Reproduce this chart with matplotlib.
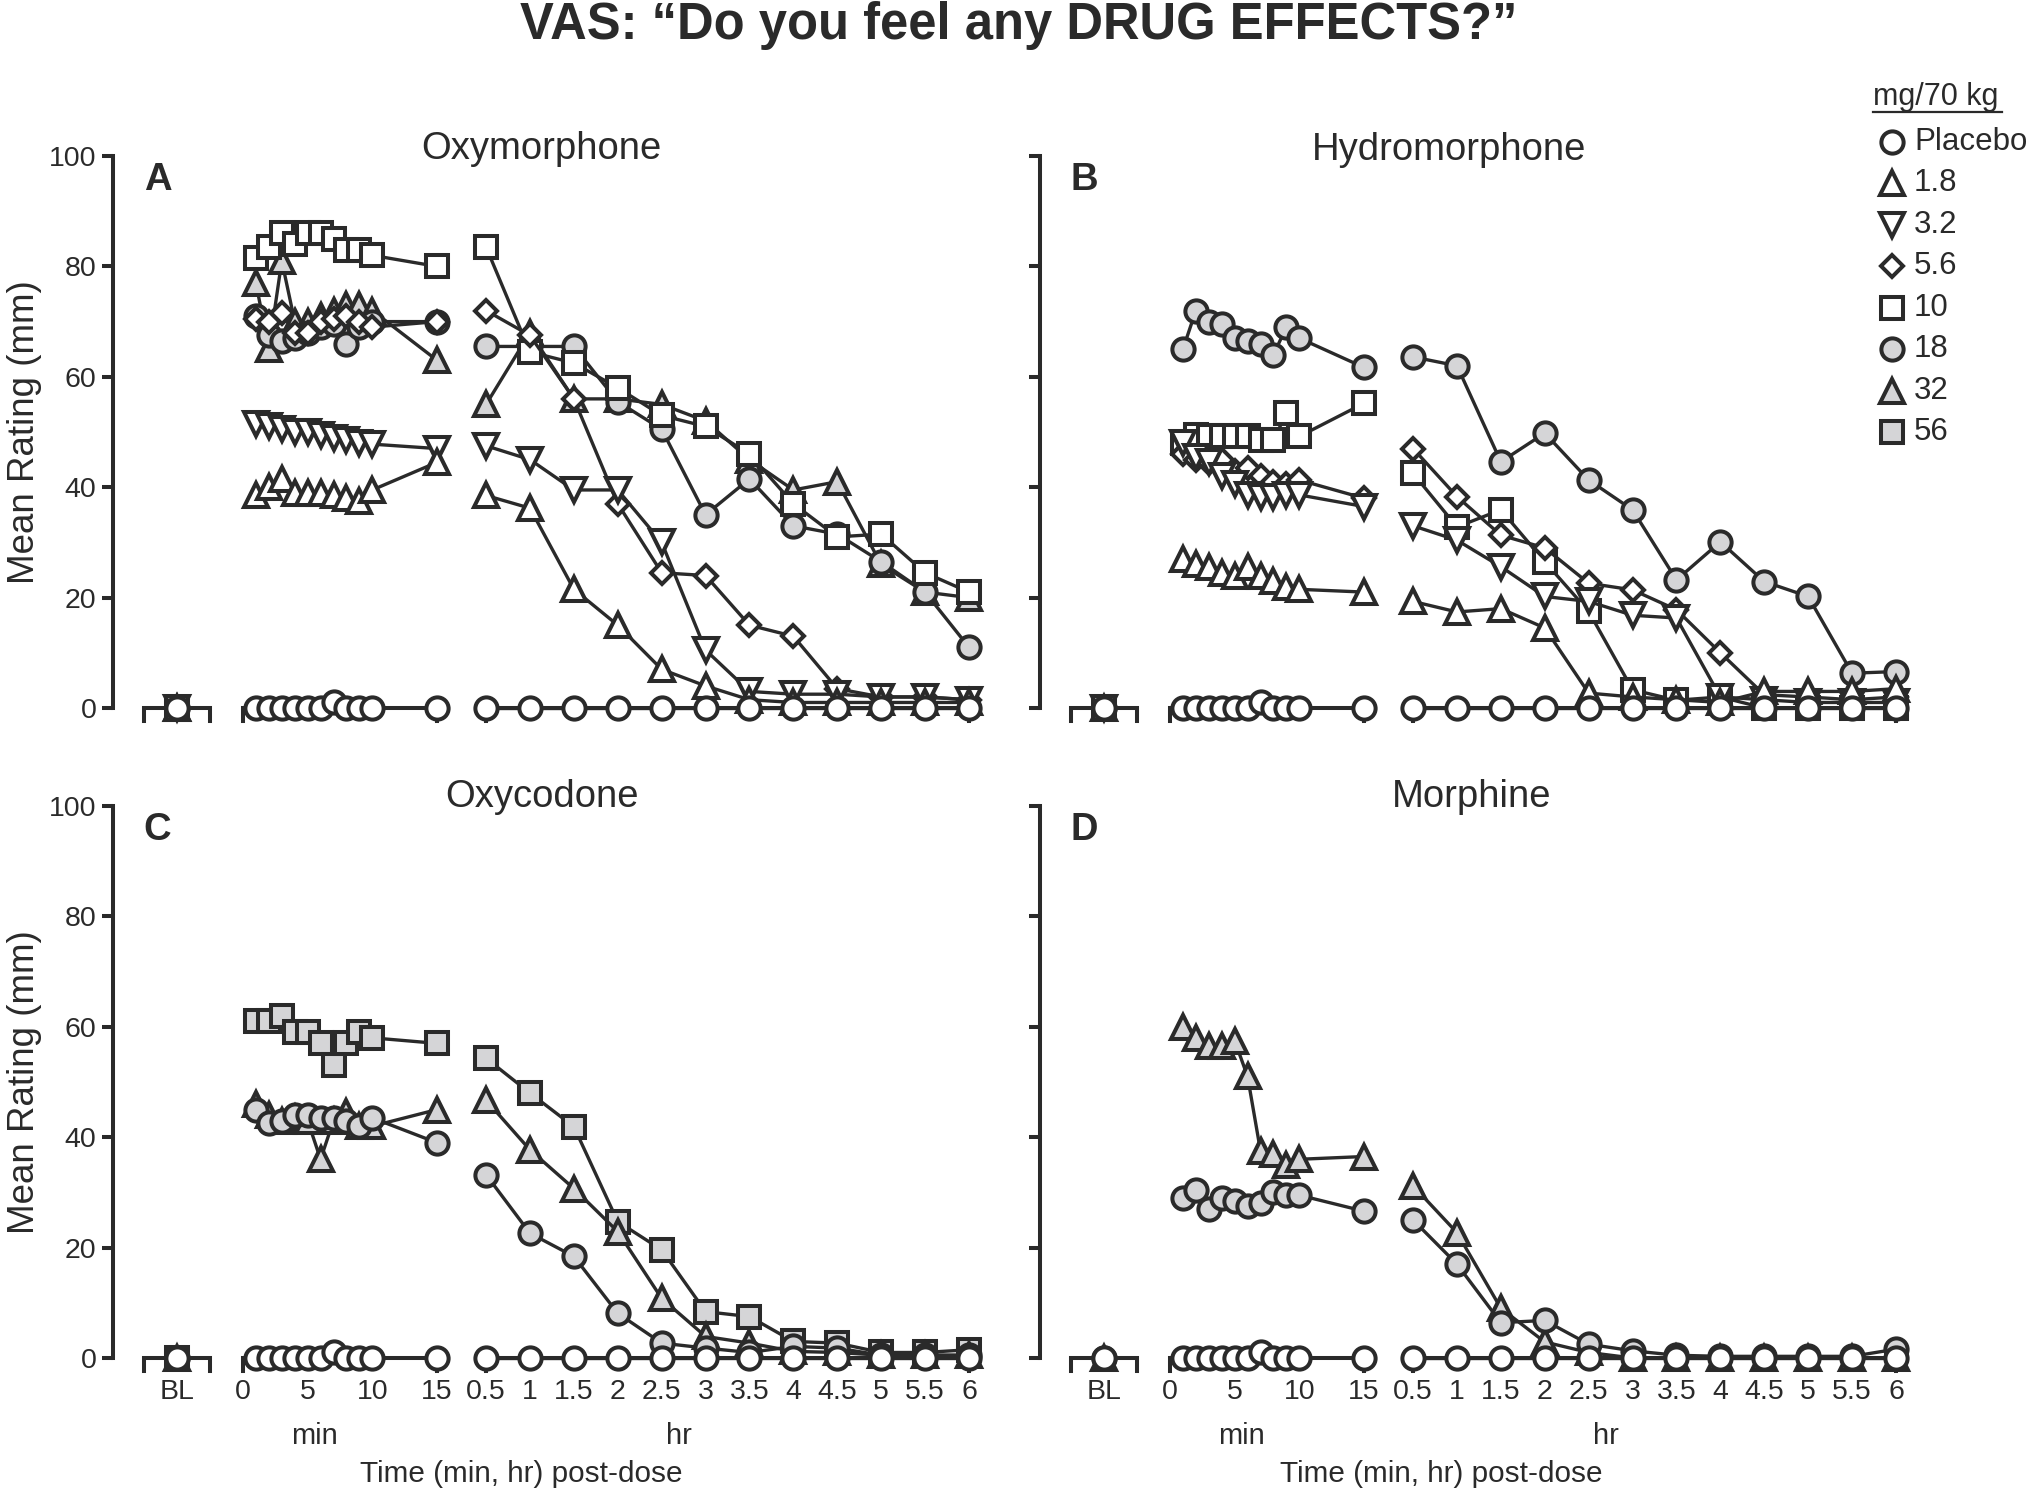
import matplotlib
matplotlib.use("Agg")
import matplotlib.pyplot as plt
from matplotlib.lines import Line2D

plt.rcParams['font.family'] = ['Liberation Sans', 'DejaVu Sans']

W, H, DPI = 2032, 1492, 100

# ---------------- data ----------------
min_times = [1, 2, 3, 4, 5, 6, 7, 8, 9, 10, 15]
hr_times = [0.5, 1, 1.5, 2, 2.5, 3, 3.5, 4, 4.5, 5, 5.5, 6]
min_tick_values = [0, 5, 10, 15]
hr_tick_labels = ['0.5', '1', '1.5', '2', '2.5', '3', '3.5', '4', '4.5', '5', '5.5', '6']
dose_labels = ['Placebo', '1.8', '3.2', '5.6', '10', '18', '32', '56']
y_ticks = [0, 20, 40, 60, 80, 100]

# each series: [BL] + 11 values at min_times + 12 values at hr_times
oxym_placebo = [0] + [0, 0, 0, 0, 0, 0, 1, 0, 0, 0, 0] + [0] * 12
oxym_1_8 = [0] + [38.5, 40, 41.5, 39, 39, 39, 38.5, 38, 37.5, 39.5, 44.5] + \
    [38.5, 36.2, 21.5, 15, 7, 4, 1.5, 1, 1, 1, 1, 1]
oxym_3_2 = [0] + [51.5, 51, 50.5, 50, 50, 49.5, 49, 48.5, 48, 47.8, 47] + \
    [47.5, 45, 39.5, 39.5, 30, 10.5, 3, 2.5, 2.5, 2, 2, 1.5]
oxym_5_6 = [0] + [70.5, 70, 71.5, 68, 68, 70, 70.5, 71, 70, 69, 70] + \
    [72, 67.5, 56, 37, 24.5, 24, 15, 13, 3.5, 2, 2, 1.5]
oxym_10 = [0] + [81.5, 83.5, 86, 84, 86, 86, 85, 83, 83, 82, 80] + \
    [83.5, 64.5, 62.5, 58, 53, 51, 46, 37, 31, 31.5, 24.5, 21]
oxym_18 = [0] + [71, 67.5, 66.5, 67, 68, 69, 69.5, 66, 69, 70, 70] + \
    [65.5, 65.5, 65.5, 55.5, 50.5, 35, 41.5, 33, 31.5, 26.5, 21, 11]
oxym_32 = [0] + [77, 65, 81, 70, 70, 71, 72, 73, 73, 72, 63] + \
    [55, 68, 56, 56, 55, 52, 45, 39.5, 41, 26, 21, 20]

hydro_placebo = [0] + [0, 0, 0, 0, 0, 0, 1, 0, 0, 0, 0] + [0] * 12
hydro_1_8 = [0] + [27, 26, 25.5, 24.5, 24, 25.5, 24, 23, 22, 21.5, 21] + \
    [19.3, 17.4, 18, 14.5, 2.7, 2, 1.5, 1, 3, 3, 3, 3.5]
hydro_3_2 = [0] + [48, 45.5, 44.5, 42, 40.5, 38.5, 38.3, 38.3, 38.6, 38.6, 36.5] + \
    [33, 30.4, 25.6, 20.2, 19.3, 16.8, 16.3, 2, 1.5, 1, 1, 1]
hydro_5_6 = [0] + [46, 45, 44.3, 45, 43, 43.5, 42, 41, 40.5, 41.3, 38] + \
    [47, 38.3, 31.3, 29, 22.6, 21.4, 17.8, 10, 2.4, 2, 1.5, 2]
hydro_10 = [0] + [48, 49.5, 49.2, 49.2, 49.2, 49.2, 48.5, 48.5, 53.4, 49.2, 55.2] + \
    [42.5, 32.8, 35.9, 26.5, 17.5, 3.3, 1.4, 2, 0, 0, 0, 0]
hydro_18 = [0] + [65, 72, 70, 69.5, 67, 66.5, 66, 64, 69, 67, 61.7] + \
    [63.6, 62, 44.6, 49.8, 41.3, 35.9, 23.2, 30.1, 22.9, 20.2, 6.3, 6.6]

oxyc_placebo = [0] + [0, 0, 0, 0, 0, 0, 1, 0, 0, 0, 0] + [0] * 12
oxyc_18 = [0] + [45, 42.5, 43, 44, 44, 43.5, 43.5, 43, 42, 43.5, 39] + \
    [33.2, 22.6, 18.4, 8.1, 2.7, 1.8, 1, 2.1, 1.8, 0.5, 0.5, 0.5]
oxyc_32 = [0] + [46, 44, 43, 43.5, 43, 36, 43, 44.5, 42, 42, 45] + \
    [46.7, 37.7, 30.7, 22.9, 10.8, 3.9, 2.7, 1.2, 1, 0.5, 0.5, 0.5]
oxyc_56 = [0] + [61, 61, 62, 59, 59, 57, 53, 57, 59, 58, 57] + \
    [54.3, 48, 41.9, 24.7, 19.6, 8.4, 7.5, 3, 2.7, 1, 1, 1.5]

morph_placebo = [0] + [0, 0, 0, 0, 0, 0, 1, 0, 0, 0, 0] + [0] * 12
morph_18 = [0] + [29, 30.5, 27, 29, 28.5, 27.5, 28, 30, 29.5, 29.5, 26.6] + \
    [25, 17, 6.4, 6.8, 2.5, 1.3, 0.5, 0.3, 0.3, 0.3, 0.3, 1.6]
morph_32 = [0] + [60, 58, 56.5, 56.5, 57.5, 51, 37.5, 37, 35, 36, 36.5] + \
    [31.2, 22.7, 9, 2.9, 1, 0, 0, 0, 0, 0, 0, 0]

panels = [
    ('A', 'Oxymorphone', {'Placebo': oxym_placebo, '1.8': oxym_1_8, '3.2': oxym_3_2,
                          '5.6': oxym_5_6, '10': oxym_10, '18': oxym_18, '32': oxym_32}),
    ('B', 'Hydromorphone', {'Placebo': hydro_placebo, '1.8': hydro_1_8, '3.2': hydro_3_2,
                            '5.6': hydro_5_6, '10': hydro_10, '18': hydro_18}),
    ('C', 'Oxycodone', {'Placebo': oxyc_placebo, '18': oxyc_18, '32': oxyc_32, '56': oxyc_56}),
    ('D', 'Morphine', {'Placebo': morph_placebo, '18': morph_18, '32': morph_32}),
]

# ---------------- styling ----------------
INK = '#2a2a2a'
GRAY = '#d5d5d7'
MS = 16
MEW = 2.9
LW = 2.4
styles = {
    'Placebo': dict(marker='o', mfc='white', ms=MS),
    '1.8': dict(marker='^', mfc='white', ms=MS + 1),
    '3.2': dict(marker='v', mfc='white', ms=MS + 1),
    '5.6': dict(marker='D', mfc='white', ms=MS - 4.5),
    '10': dict(marker='s', mfc='white', ms=MS),
    '18': dict(marker='o', mfc=GRAY, ms=MS),
    '32': dict(marker='^', mfc=GRAY, ms=MS + 1),
    '56': dict(marker='s', mfc=GRAY, ms=MS),
}

# x mapping (axis units = minutes)
BL_X = -5.1
HR0_X = 18.8
HALF_HR_STEP = 3.395


def hr_x(h):
    return HR0_X + (h - 0.5) / 0.5 * HALF_HR_STEP


PX_PER_MIN = 12.93
PX_PER_UNIT = 5.52
XLIM = (-10.05, 58.5)
YLIM = (-2.5, 103)

fig = plt.figure(figsize=(W / DPI, H / DPI), dpi=DPI)


def make_ax(x0_px, y0_px):
    left = x0_px + XLIM[0] * PX_PER_MIN
    right = x0_px + XLIM[1] * PX_PER_MIN
    bottom = y0_px - YLIM[0] * PX_PER_UNIT
    top = y0_px - YLIM[1] * PX_PER_UNIT
    return fig.add_axes([left / W, 1 - bottom / H, (right - left) / W, (bottom - top) / H])


origins = {'A': (243, 708), 'B': (1170, 708), 'C': (243, 1358), 'D': (1170, 1358)}
title_pos = {'A': (23.1, 101.2), 'B': (21.6, 101.0), 'C': (23.1, 101.7), 'D': (23.3, 101.7)}

for letter, drug, series in panels:
    ax = make_ax(*origins[letter])
    ax.set_xlim(*XLIM)
    ax.set_ylim(*YLIM)
    ax.patch.set_alpha(0)
    for s in ['top', 'right', 'bottom']:
        ax.spines[s].set_visible(False)
    ax.spines['left'].set_bounds(0, 100)
    ax.spines['left'].set_linewidth(2.9)
    ax.spines['left'].set_color(INK)
    ax.set_yticks(y_ticks)
    ax.tick_params(axis='y', length=8, width=2.9, color=INK, labelsize=20.5,
                   labelcolor=INK, pad=4)
    if letter in ('B', 'D'):
        ax.set_yticklabels([])

    bottom_row = letter in ('C', 'D')
    xt = [BL_X] + list(min_tick_values) + [hr_x(h) for h in hr_times]
    xl = ['BL'] + [str(v) for v in min_tick_values] + hr_tick_labels
    ax.set_xticks(xt)
    ax.set_xticklabels(xl if bottom_row else [''] * len(xt))
    ax.tick_params(axis='x', length=0, labelsize=20.5, labelcolor=INK, pad=5)

    # broken x-axis segments
    tick_dy = 2.4
    for a, b in [(BL_X - 2.55, BL_X + 2.55), (0, 15), (HR0_X, hr_x(6))]:
        ax.plot([a, a, b, b], [-tick_dy, 0, 0, -tick_dy], color=INK, lw=2.9,
                solid_joinstyle='miter', clip_on=False, zorder=1)

    # series, highest dose first so placebo lies on top
    order = [d for d in reversed(dose_labels) if d in series]
    for z, dose in enumerate(order):
        vals = series[dose]
        st = styles[dose]
        kw = dict(color=INK, lw=LW, mec=INK, mew=MEW, clip_on=False, zorder=3 + z,
                  **st)
        ax.plot([BL_X], vals[0:1], **kw)
        ax.plot(min_times, vals[1:12], **kw)
        ax.plot([hr_x(h) for h in hr_times], vals[12:24], **kw)

    tx, ty = title_pos[letter]
    ax.text(tx, ty, drug, ha='center', va='center',
            fontsize=27.5, color=INK, clip_on=False)
    ax.text(-6.6, 95.6, letter, ha='center', va='center', fontsize=27.5,
            fontweight='bold', color=INK)

# y labels
for yc in (708 - 50 * PX_PER_UNIT, 1358 - 50 * PX_PER_UNIT):
    fig.text(25 / W, 1 - yc / H, 'Mean Rating (mm)', rotation=90, ha='center',
             va='center', fontsize=26.5, color=INK)

# min / hr / x labels
for dx, xlab in ((0, 521), (927, 1441)):
    fig.text((314 + dx) / W, 1 - 1436 / H, 'min', ha='center', va='center',
             fontsize=21, color=INK)
    fig.text((679 + dx) / W, 1 - 1436 / H, 'hr', ha='center', va='center',
             fontsize=21, color=INK)
    fig.text(xlab / W, 1 - 1474 / H, 'Time (min, hr) post-dose', ha='center',
             va='center', fontsize=21.4, color=INK)

fig.text(1019 / W, 1 - 25 / H, 'VAS: \u201cDo you feel any DRUG EFFECTS?\u201d',
         ha='center', va='center', fontsize=36.5, fontweight='bold', color=INK)

# legend
fig.text(1873 / W, 1 - 105 / H, 'mg/70 kg', ha='left', va='baseline', fontsize=22,
         color=INK)
fig.add_artist(Line2D([1873 / W, 2002 / W], [1 - 112 / H, 1 - 112 / H],
                      transform=fig.transFigure, color=INK, lw=1.6))
for i, dose in enumerate(dose_labels):
    yc = 141.7 + i * 41.5
    st = styles[dose]
    fig.add_artist(Line2D([1892 / W], [1 - yc / H], transform=fig.transFigure,
                          ls='none', mec=INK, mew=MEW, **st))
    fig.text(1914 / W, 1 - yc / H, dose, ha='left', va='center', fontsize=22.5,
             color=INK)

fig.savefig('out.png', dpi=DPI)
